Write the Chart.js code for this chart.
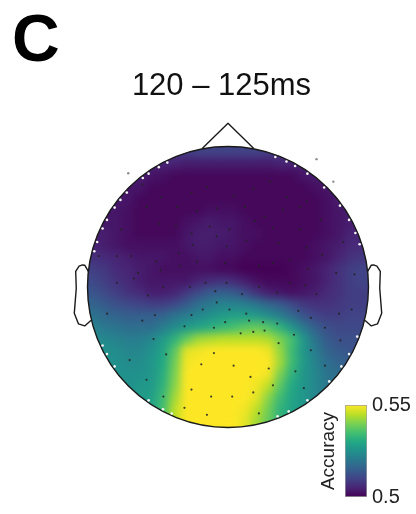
<!DOCTYPE html>
<html>
<head>
<meta charset="utf-8">
<script src="https://cdn.jsdelivr.net/npm/chart.js@4/dist/chart.umd.min.js"></script>
<style>
  html, body { margin: 0; padding: 0; background: #fff; }
  #wrap { position: relative; width: 416px; height: 514px; }
  #topo { position: absolute; left: 0; top: 0; }
  #cbar { position: absolute; left: 300px; top: 385px; }
</style>
</head>
<body>
<div id="wrap">
  <canvas id="topo" width="416" height="514"></canvas>
  <canvas id="cbar" width="116" height="129"></canvas>
</div>
<script>
// ---- labels ----
const panelLabel = 'C';
const timeWindow = '120 \u2013 125ms';
const colorbarLabel = 'Accuracy';
const accuracyRange = [0.5, 0.55];
const colorbarTicks = [0.5, 0.55];

// ---- decoding accuracy on a 24 x 24 grid over the scalp (rows: front -> back, cols: left -> right) ----
const accuracyGrid = [
  [0.507,0.507,0.507,0.507,0.507,0.507,0.507,0.508,0.509,0.510,0.510,0.510,0.510,0.510,0.510,0.509,0.508,0.507,0.507,0.507,0.507,0.507,0.507,0.507],
  [0.505,0.505,0.505,0.505,0.505,0.505,0.505,0.505,0.504,0.504,0.504,0.504,0.504,0.504,0.504,0.504,0.505,0.505,0.505,0.505,0.505,0.505,0.505,0.505],
  [0.504,0.504,0.504,0.504,0.504,0.503,0.502,0.501,0.501,0.501,0.501,0.501,0.501,0.501,0.501,0.501,0.501,0.501,0.503,0.504,0.504,0.504,0.504,0.504],
  [0.503,0.503,0.503,0.503,0.503,0.501,0.501,0.501,0.501,0.501,0.501,0.501,0.501,0.501,0.501,0.501,0.501,0.501,0.501,0.502,0.503,0.504,0.504,0.504],
  [0.503,0.503,0.503,0.503,0.501,0.501,0.501,0.501,0.501,0.501,0.501,0.501,0.501,0.501,0.501,0.501,0.501,0.501,0.501,0.501,0.502,0.504,0.504,0.504],
  [0.503,0.503,0.503,0.502,0.501,0.501,0.501,0.501,0.501,0.501,0.502,0.502,0.502,0.501,0.501,0.501,0.501,0.501,0.501,0.501,0.502,0.503,0.504,0.504],
  [0.503,0.503,0.503,0.502,0.501,0.501,0.501,0.501,0.502,0.503,0.504,0.503,0.503,0.502,0.501,0.501,0.501,0.501,0.501,0.501,0.502,0.503,0.504,0.504],
  [0.504,0.504,0.503,0.502,0.501,0.501,0.501,0.501,0.503,0.504,0.504,0.504,0.503,0.502,0.502,0.501,0.501,0.501,0.501,0.501,0.502,0.503,0.505,0.505],
  [0.505,0.504,0.503,0.502,0.502,0.502,0.502,0.502,0.503,0.504,0.504,0.503,0.503,0.502,0.501,0.501,0.501,0.501,0.501,0.502,0.503,0.504,0.506,0.506],
  [0.507,0.506,0.505,0.504,0.503,0.503,0.503,0.502,0.502,0.503,0.503,0.502,0.502,0.501,0.501,0.501,0.501,0.501,0.501,0.502,0.503,0.505,0.507,0.508],
  [0.509,0.508,0.506,0.505,0.504,0.503,0.502,0.502,0.502,0.502,0.502,0.501,0.501,0.500,0.500,0.500,0.500,0.501,0.502,0.503,0.505,0.507,0.509,0.510],
  [0.511,0.509,0.507,0.506,0.504,0.503,0.503,0.503,0.503,0.505,0.506,0.507,0.506,0.504,0.502,0.501,0.501,0.501,0.502,0.503,0.505,0.507,0.509,0.510],
  [0.513,0.511,0.509,0.507,0.506,0.504,0.504,0.505,0.508,0.511,0.514,0.515,0.514,0.511,0.507,0.504,0.503,0.502,0.503,0.504,0.506,0.507,0.509,0.509],
  [0.516,0.514,0.512,0.511,0.510,0.509,0.509,0.511,0.514,0.518,0.520,0.522,0.522,0.521,0.519,0.516,0.514,0.511,0.508,0.507,0.507,0.508,0.509,0.509],
  [0.519,0.517,0.516,0.515,0.515,0.515,0.516,0.519,0.521,0.523,0.525,0.527,0.528,0.528,0.527,0.524,0.521,0.517,0.513,0.510,0.509,0.509,0.510,0.510],
  [0.522,0.520,0.519,0.518,0.518,0.518,0.521,0.524,0.527,0.529,0.531,0.533,0.535,0.537,0.538,0.536,0.532,0.526,0.520,0.515,0.512,0.511,0.511,0.511],
  [0.524,0.523,0.522,0.521,0.521,0.523,0.527,0.532,0.538,0.543,0.544,0.545,0.545,0.545,0.545,0.544,0.540,0.535,0.526,0.519,0.514,0.512,0.512,0.512],
  [0.525,0.525,0.524,0.523,0.523,0.525,0.529,0.537,0.548,0.549,0.550,0.550,0.550,0.550,0.550,0.549,0.542,0.534,0.526,0.521,0.516,0.514,0.513,0.513],
  [0.525,0.525,0.525,0.524,0.524,0.526,0.530,0.539,0.549,0.550,0.550,0.550,0.550,0.550,0.550,0.550,0.543,0.534,0.527,0.522,0.518,0.516,0.515,0.515],
  [0.525,0.525,0.525,0.525,0.525,0.526,0.531,0.540,0.550,0.550,0.550,0.550,0.550,0.550,0.550,0.549,0.540,0.532,0.526,0.523,0.519,0.518,0.517,0.516],
  [0.525,0.525,0.525,0.525,0.526,0.527,0.532,0.541,0.550,0.550,0.550,0.550,0.550,0.550,0.549,0.545,0.537,0.530,0.526,0.523,0.520,0.519,0.518,0.517],
  [0.526,0.526,0.526,0.526,0.527,0.528,0.534,0.543,0.550,0.550,0.550,0.550,0.550,0.550,0.548,0.541,0.534,0.529,0.526,0.523,0.521,0.520,0.519,0.519],
  [0.528,0.528,0.528,0.528,0.528,0.529,0.535,0.545,0.550,0.550,0.550,0.550,0.550,0.549,0.545,0.539,0.532,0.529,0.526,0.525,0.525,0.525,0.525,0.525],
  [0.530,0.530,0.530,0.530,0.530,0.530,0.536,0.545,0.550,0.550,0.550,0.550,0.550,0.548,0.543,0.538,0.533,0.530,0.529,0.529,0.529,0.529,0.529,0.529]
];

// ---- electrode positions (head radius = 1, nose up) ----
const electrodeX = [
  -0.61,-0.48,-0.26,-0.15,0.04,0.18,0.30,0.42,0.56,
  -0.58,-0.36,-0.22,-0.08,0.12,0.26,0.39,0.51,0.66,
  -0.76,-0.49,-0.37,-0.26,-0.13,0.01,0.19,0.32,0.51,0.82,
  -0.92,-0.79,-0.69,-0.51,-0.35,-0.25,-0.08,-0.01,0.13,0.36,0.56,0.67,
  -0.64,-0.48,-0.34,-0.22,-0.02,0.22,0.32,0.44,0.57,0.77,0.90,
  -0.79,-0.67,-0.57,-0.46,-0.27,-0.16,-0.09,-0.01,0.10,0.22,0.35,0.44,0.55,0.63,
  -0.86,-0.61,-0.52,-0.26,-0.18,-0.08,0.01,0.13,0.25,0.35,0.50,0.59,0.79,0.88,
  -0.53,-0.31,-0.10,-0.02,0.09,0.15,0.18,0.26,0.36,0.47,0.59,0.69,0.80,
  -0.70,-0.44,-0.19,-0.10,0.04,0.16,0.29,0.48,0.69,
  -0.58,-0.46,-0.26,-0.12,0.03,0.18,0.32,0.54,
  -0.31,-0.15,0.22
];
const electrodeY = [
  0.73,0.64,0.67,0.71,0.65,0.70,0.75,0.64,0.61,
  0.57,0.57,0.54,0.56,0.57,0.50,0.55,0.57,0.48,
  0.41,0.45,0.43,0.38,0.43,0.41,0.47,0.42,0.41,0.32,
  0.22,0.22,0.22,0.18,0.24,0.30,0.36,0.29,0.33,0.31,0.28,0.23,
  0.10,0.12,0.15,0.18,0.17,0.15,0.17,0.19,0.13,0.10,0.09,
  0.03,0.06,-0.06,0.00,0.00,0.03,-0.03,0.03,-0.05,0.00,-0.04,0.03,0.01,-0.05,
  -0.19,-0.24,-0.20,-0.20,-0.16,-0.11,-0.16,-0.19,-0.25,-0.26,-0.17,-0.22,-0.19,-0.16,
  -0.37,-0.28,-0.29,-0.25,-0.33,-0.24,-0.32,-0.31,-0.40,-0.34,-0.45,-0.29,-0.38,
  -0.52,-0.48,-0.55,-0.47,-0.56,-0.64,-0.58,-0.60,-0.56,
  -0.66,-0.78,-0.73,-0.78,-0.78,-0.75,-0.70,-0.72,
  -0.86,-0.91,-0.90
];
// electrodes lying on the rim (polar angle in degrees, 0 = right ear, 90 = nose)
const rimAngles = [116,120,125,128,137,141,145,151,155,161,165,
                   70,65,61,55,46,36,29,23,18,
                   205,209,215,235,242,246,
                   339,331,325,317,305,296,291];
// electrodes beyond the head radius
const outerX = [-0.71, 0.63, 0.75];
const outerY = [0.81, 0.91, 0.75];

// ---- head outline parts (head radius = 1) ----
const noseX = [0.18, 0, -0.18];
const noseY = [0.99, 1.165, 0.99];
const earX = [0.994, 1.020, 1.036, 1.060, 1.084, 1.080, 1.094, 1.064, 1.020, 0.978];
const earY = [0.111, 0.155, 0.157, 0.149, 0.111, -0.011, -0.186, -0.263, -0.277, -0.240];

// ---- viridis colour map ----
const viridis = ['#440154','#482475','#414487','#355f8d','#2a788e','#21918c',
                 '#22a884','#44bf70','#7ad151','#bddf26','#fde725'];
const viridisRGB = viridis.map(h => [1, 3, 5].map(i => parseInt(h.substr(i, 2), 16)));
function colorFor(v) {
  let t = (v - accuracyRange[0]) / (accuracyRange[1] - accuracyRange[0]);
  t = Math.max(0, Math.min(1, t)) * (viridisRGB.length - 1);
  const i = Math.min(Math.floor(t), viridisRGB.length - 2);
  const f = t - i;
  const a = viridisRGB[i], b = viridisRGB[i + 1];
  return 'rgb(' + a.map((c, k) => Math.round(c + (b[k] - c) * f)).join(',') + ')';
}

const FONT = '"Liberation Sans", Arial, Helvetica, sans-serif';

// grid cells
const nGrid = accuracyGrid.length;
const cellStep = 2 / nGrid;
const heatPoints = [];
accuracyGrid.forEach((row, r) => row.forEach((v, c) => {
  heatPoints.push({ x: -1 + (c + 0.5) * cellStep, y: 1 - (r + 0.5) * cellStep, v });
}));
function cellRadius(chart) {
  const xs = chart.scales.x;
  const w = Math.abs(xs.getPixelForValue(cellStep) - xs.getPixelForValue(0));
  return (w / 2 + 0.6) / Math.SQRT1_2;
}

const electrodePoints = electrodeX.map((x, i) => ({ x, y: electrodeY[i] }));
const rimPoints = rimAngles.map(a => ({ x: 0.985 * Math.cos(a * Math.PI / 180), y: 0.985 * Math.sin(a * Math.PI / 180) }));
const outerPoints = outerX.map((x, i) => ({ x, y: outerY[i] }));

// smooth the cell map, clip it to the scalp and draw the head outline
const headPlugin = {
  id: 'headOutline',
  afterDatasetDraw(chart, args) {
    if (args.index !== 0) return;
    const { ctx, canvas, chartArea } = chart;
    const xs = chart.scales.x, ys = chart.scales.y;
    const cx = xs.getPixelForValue(0), cy = ys.getPixelForValue(0);
    const rx = xs.getPixelForValue(1) - cx, ry = cy - ys.getPixelForValue(1);
    const dpr = chart.currentDevicePixelRatio || 1;

    const tmp = document.createElement('canvas');
    tmp.width = canvas.width; tmp.height = canvas.height;
    tmp.getContext('2d').drawImage(canvas, 0, 0);

    ctx.save();
    ctx.setTransform(1, 0, 0, 1, 0, 0);
    ctx.clearRect((chartArea.left - 12) * dpr, (chartArea.top - 12) * dpr,
                  (chartArea.width + 24) * dpr, (chartArea.height + 24) * dpr);
    ctx.beginPath();
    ctx.ellipse(cx * dpr, cy * dpr, rx * dpr, ry * dpr, 0, 0, Math.PI * 2);
    ctx.clip();
    ctx.drawImage(tmp, 0, 0);
    ctx.filter = 'blur(4px)';
    ctx.drawImage(tmp, 0, 0);
    ctx.restore();

    ctx.save();
    ctx.strokeStyle = '#1a1a1a';
    ctx.lineWidth = 1.4;
    ctx.lineJoin = 'round';
    ctx.lineCap = 'round';
    ctx.beginPath();
    ctx.ellipse(cx, cy, rx, ry, 0, 0, Math.PI * 2);
    ctx.stroke();
    const poly = (xsArr, ysArr, sign) => {
      ctx.beginPath();
      xsArr.forEach((x, i) => {
        const px = xs.getPixelForValue(sign * x), py = ys.getPixelForValue(ysArr[i]);
        if (i === 0) ctx.moveTo(px, py); else ctx.lineTo(px, py);
      });
      ctx.stroke();
    };
    poly(noseX, noseY, 1);
    poly(earX, earY, 1);
    poly(earX, earY, -1);
    ctx.restore();
  },
  afterDraw(chart) {
    const { ctx } = chart;
    ctx.save();
    ctx.fillStyle = '#000';
    ctx.textBaseline = 'alphabetic';
    ctx.font = 'bold 66px ' + FONT;
    ctx.textAlign = 'left';
    ctx.fillText(panelLabel, 12, 61);
    ctx.fillStyle = '#111';
    ctx.font = '31px ' + FONT;
    ctx.textAlign = 'center';
    ctx.fillText(timeWindow, 221.5, 95);
    ctx.restore();
  }
};

new Chart(document.getElementById('topo'), {
  type: 'scatter',
  data: {
    datasets: [
      {
        data: heatPoints,
        pointStyle: 'rect',
        pointRadius: ctx => cellRadius(ctx.chart),
        pointHoverRadius: ctx => cellRadius(ctx.chart),
        pointBackgroundColor: ctx => colorFor(ctx.raw.v),
        pointBorderWidth: 0,
        order: 3
      },
      {
        data: electrodePoints,
        pointRadius: 1.1,
        pointBackgroundColor: 'rgba(35,35,35,0.85)',
        pointBorderWidth: 0,
        order: 2
      },
      {
        data: rimPoints,
        pointRadius: 1.3,
        pointBackgroundColor: '#f4f4f4',
        pointBorderWidth: 0,
        order: 1
      },
      {
        data: outerPoints,
        pointRadius: 1.2,
        pointBackgroundColor: '#8c8c8c',
        pointBorderWidth: 0,
        clip: false,
        order: 1
      }
    ]
  },
  options: {
    responsive: false,
    animation: false,
    devicePixelRatio: 1,
    events: [],
    layout: { padding: { left: 87.5, right: 47.5, top: 146.5, bottom: 86.5 } },
    plugins: {
      legend: { display: false },
      tooltip: { enabled: false },
      title: { display: false }
    },
    scales: {
      x: { type: 'linear', min: -1, max: 1, display: false },
      y: { type: 'linear', min: -1, max: 1, display: false }
    }
  },
  plugins: [headPlugin]
});

// ---- colour bar ----
new Chart(document.getElementById('cbar'), {
  type: 'bar',
  data: {
    labels: [colorbarLabel],
    datasets: [{
      data: [accuracyRange],
      backgroundColor: ctx => {
        const a = ctx.chart.chartArea;
        if (!a) return viridis[0];
        const g = ctx.chart.ctx.createLinearGradient(0, a.bottom, 0, a.top);
        viridis.forEach((c, i) => g.addColorStop(i / (viridis.length - 1), c));
        return g;
      },
      borderColor: '#a0a0a0',
      borderWidth: 1,
      borderSkipped: false,
      barPercentage: 1,
      categoryPercentage: 1,
      yAxisID: 'y'
    }]
  },
  options: {
    responsive: false,
    animation: false,
    devicePixelRatio: 1,
    events: [],
    layout: { padding: { top: 20, bottom: 12, left: 0, right: 0 } },
    plugins: { legend: { display: false }, tooltip: { enabled: false } },
    scales: {
      x: { display: false },
      y: {
        type: 'linear',
        position: 'right',
        min: accuracyRange[0],
        max: accuracyRange[1],
        afterBuildTicks: s => { s.ticks = colorbarTicks.map(v => ({ value: v })); },
        afterFit: s => { s.width = 49; },
        ticks: { padding: 5, color: '#222', font: { family: FONT, size: 20 }, callback: v => String(v) },
        grid: { display: false, drawTicks: false, tickLength: 0 },
        border: { display: false }
      },
      yTitle: {
        type: 'linear',
        position: 'left',
        afterFit: s => { s.width = 45; },
        ticks: { display: false },
        grid: { display: false, drawTicks: false },
        border: { display: false },
        title: { display: true, text: colorbarLabel, color: '#222', font: { family: FONT, size: 19 }, padding: { top: 17, bottom: 0 } }
      }
    }
  }
});
</script>
</body>
</html>
